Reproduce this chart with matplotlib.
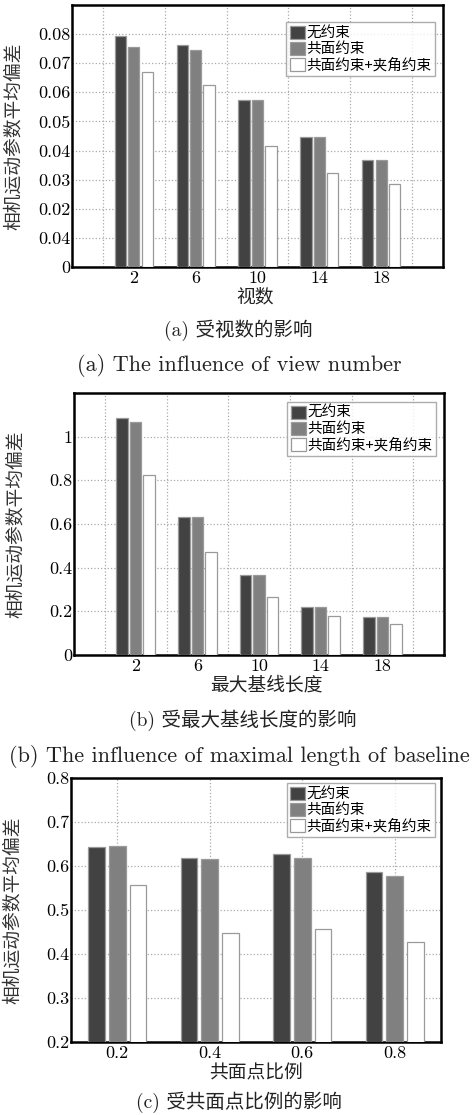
import matplotlib
matplotlib.use("Agg")
import matplotlib.pyplot as plt
from matplotlib.patches import Patch

# ---------------- data ----------------
series_names = ["无约束", "共面约束", "共面约束+夹角约束"]

a_views = [2, 6, 10, 14, 18]
a_none = [0.0793, 0.0762, 0.0575, 0.0447, 0.0368]
a_cop = [0.0756, 0.0745, 0.0575, 0.0447, 0.0368]
a_both = [0.0670, 0.0624, 0.0416, 0.0323, 0.0284]
a_yticks = [0, 0.01, 0.02, 0.03, 0.04, 0.05, 0.06, 0.07, 0.08]
a_yticklabels = ["0", "0.04", "0.02", "0.03", "0.04", "0.05", "0.06", "0.07", "0.08"]

b_len = [2, 6, 10, 14, 18]
b_none = [1.087, 0.631, 0.365, 0.220, 0.173]
b_cop = [1.069, 0.631, 0.365, 0.221, 0.173]
b_both = [0.824, 0.473, 0.267, 0.180, 0.140]
b_yticks = [0, 0.2, 0.4, 0.6, 0.8, 1.0]
b_yticklabels = ["0", "0.2", "0.4", "0.6", "0.8", "1"]

c_ratio = [0.2, 0.4, 0.6, 0.8]
c_none = [0.643, 0.619, 0.628, 0.586]
c_cop = [0.646, 0.616, 0.618, 0.577]
c_both = [0.556, 0.447, 0.456, 0.427]
c_yticks = [0.2, 0.3, 0.4, 0.5, 0.6, 0.7, 0.8]
c_yticklabels = ["0.2", "0.3", "0.4", "0.5", "0.6", "0.7", "0.8"]

ylabel = "相机运动参数平均偏差"
xlabels = ["视数", "最大基线长度", "共面点比例"]
captions_cn = ["(a) 受视数的影响", "(b) 受最大基线长度的影响", "(c) 受共面点比例的影响"]
captions_en = ["(a) The influence of view number",
               "(b) The influence of maximal length of baseline"]

# ---------------- style ----------------
W, H = 474, 1115
fig = plt.figure(figsize=(W / 100, H / 100), dpi=100)
CJK = ["Noto Sans CJK SC", "DejaVu Sans"]
MIX = ["cmr10", "Noto Sans CJK SC", "DejaVu Sans"]
colors = ["#424242", "#808080", "#ffffff"]
edge = "#9a9a9a"


def fig_rect(l, r, t, b):
    return [l / W, 1 - b / H, (r - l) / W, (b - t) / H]


def draw(ax, x, vals, off, width, xticks, xticklabels, xlim, ylim, yticks,
         yticklabels, minor_x, legend_anchor):
    for i, (v, c) in enumerate(zip(vals, colors)):
        pos = [xx + (i - 1) * off for xx in x]
        ax.bar(pos, v, width=width, color=c, edgecolor=edge, linewidth=0.9,
               zorder=3)
    ax.set_xlim(*xlim)
    ax.set_ylim(*ylim)
    ax.set_yticks(yticks)
    ax.set_yticklabels(yticklabels, fontfamily="cmr10", fontsize=13)
    ax.set_xticks(xticks)
    ax.set_xticklabels(xticklabels, fontfamily="cmr10", fontsize=13)
    ax.tick_params(axis="both", which="both", length=0)
    ax.tick_params(axis="y", pad=1)
    ax.tick_params(axis="x", pad=3)
    if minor_x is not None:
        ax.set_xticks(minor_x, minor=True)
        ax.grid(True, axis="x", which="minor", linestyle=":", color="#aaaaaa",
                linewidth=0.9, zorder=0)
    else:
        ax.grid(True, axis="x", which="major", linestyle=":", color="#aaaaaa",
                linewidth=0.9, zorder=0)
    ax.grid(True, axis="y", which="major", linestyle=":", color="#aaaaaa",
            linewidth=0.9, zorder=0)
    for s in ax.spines.values():
        s.set_linewidth(1.8)
        s.set_color("black")
    handles = [Patch(facecolor=c, edgecolor=edge, linewidth=0.9) for c in colors]
    leg = ax.legend(handles, series_names, loc="upper right",
                    bbox_to_anchor=legend_anchor, prop={"family": CJK, "size": 10.5},
                    frameon=True, fancybox=False, handlelength=1.0,
                    handleheight=1.0, handletextpad=0.1, labelspacing=0.12,
                    borderpad=0.25, borderaxespad=0.0)
    leg.get_frame().set_edgecolor("#999999")
    leg.get_frame().set_linewidth(1.0)
    ax.set_ylabel(ylabel, family=CJK, fontsize=13.5, color="#333333")
    ax.yaxis.set_label_coords(-0.13, 0.5)


ax1 = fig.add_axes(fig_rect(72, 443, 5, 267))
draw(ax1, a_views, [a_none, a_cop, a_both], 0.87, 0.73, a_views,
     [str(v) for v in a_views], (-2, 22), (0, 0.09), a_yticks, a_yticklabels,
     [0, 4, 8, 12, 16, 20], (0.978, 0.935))

ax2 = fig.add_axes(fig_rect(74, 444, 393, 655))
draw(ax2, b_len, [b_none, b_cop, b_both], 0.88, 0.75, b_len,
     [str(v) for v in b_len], (-2, 22), (0, 1.2), b_yticks, b_yticklabels,
     [0, 4, 8, 12, 16, 20], (0.978, 0.966))

ax3 = fig.add_axes(fig_rect(71, 441, 778, 1042))
draw(ax3, c_ratio, [c_none, c_cop, c_both], 0.0446, 0.0357, c_ratio,
     [str(v) for v in c_ratio], (0.1, 0.9), (0.2, 0.8), c_yticks, c_yticklabels,
     None, (0.984, 0.981))


def ftext(x, y, s, family, size):
    fig.text(x / W, 1 - y / H, s, ha="center", va="center", family=family,
             fontsize=size, color="#222222")


ftext(255, 297, xlabels[0], CJK, 13.5)
ftext(266, 685, xlabels[1], CJK, 13.5)
ftext(256, 1073, xlabels[2], CJK, 13.5)

ftext(238, 330, captions_cn[0], MIX, 14)
ftext(243, 720, captions_cn[1], MIX, 14)
ftext(239, 1102, captions_cn[2], MIX, 14)

ftext(239, 366, captions_en[0], "cmr10", 16)
ftext(239, 756, captions_en[1], "cmr10", 16)

fig.savefig("out.png", dpi=100)
